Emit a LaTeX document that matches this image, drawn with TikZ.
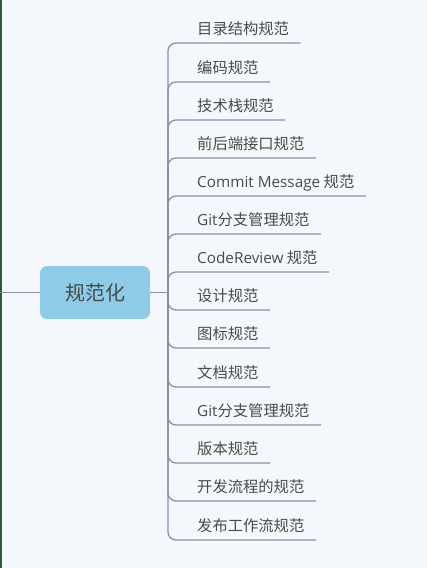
\documentclass[tikz,border=0pt]{standalone}
\usepackage{fontspec}
\setmainfont{Noto Sans CJK SC}
\newfontfamily\lat{Open Sans}
\definecolor{bgc}{HTML}{F4F8FD}
\definecolor{linec}{HTML}{8C90A8}
\definecolor{rootc}{HTML}{8DCBE6}
\definecolor{textc}{HTML}{4A4A4A}
\definecolor{edgec}{HTML}{2F5A3A}

\begin{document}
\begin{tikzpicture}[x=1pt,y=-1pt,
    branch/.style={draw=linec,line width=1.3pt,rounded corners=8pt},
    topic/.style={anchor=base west,inner sep=0pt,text=textc,font=\fontsize{15.3}{18}\selectfont},
    rootbox/.style={draw=none,fill=rootc,rounded corners=7pt,minimum width=110pt,minimum height=53pt,
                    text=textc,font=\fontsize{20}{24}\selectfont}]
\useasboundingbox[fill=bgc] (0,0) rectangle (427,568);
\fill[edgec] (0,0) rectangle (1.6,568);
\node [rootbox] (root) at (95,292.5) {规范化};
\coordinate (l) at (0,292.5);
\coordinate (j) at (168,292.5);
\draw [branch] (l) -- (root.west);
\draw [branch] (root.east) -- (j);
\foreach \y/\txt [count=\i] in {
    43/目录结构规范,
    82/编码规范,
    120/技术栈规范,
    158/前后端接口规范,
    196/{{\lat Commit Message} 规范},
    234/{{\lat Git}分支管理规范},
    272/{{\lat CodeReview} 规范},
    310/设计规范,
    348/图标规范,
    387/文档规范,
    425/{{\lat Git}分支管理规范},
    463/版本规范,
    501/开发流程的规范,
    540/发布工作流规范}
{
    \node [topic] (t\i) at (197,\y-9) {\txt};
    \draw [branch] (j) |- ([xshift=11.5pt,yshift=-9pt]t\i.base east);
}
\end{tikzpicture}
\end{document}
